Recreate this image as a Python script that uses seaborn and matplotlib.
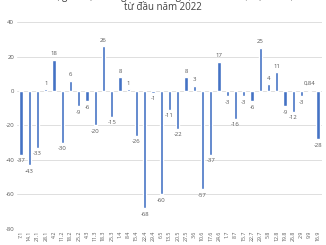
import matplotlib
matplotlib.use("Agg")
import matplotlib.pyplot as plt
import seaborn as sns
import pandas as pd

weeks = ["7.1", "14.1", "21.1", "28.1", "4.2", "11.2", "18.2", "25.2", "4.3", "11.3",
         "18.3", "25.3", "1.4", "8.4", "15.4", "22.4", "29.4", "6.5", "13.5", "20.5",
         "27.5", "3.6", "10.6", "17.6", "24.6", "1.7", "8.7", "15.7", "22.7", "29.7",
         "5.8", "12.8", "19.8", "26.8", "2.9", "9.9", "16.9"]
values = [-37, -43, -33, 1, 18, -30, 6, -9, -6, -20, 26, -15, 8, 1, -26, -68, -1, -60,
          -11, -22, 8, 3, -57, -37, 17, -3, -16, -3, -6, 25, 4, 11, -9, -12, -3, 0.84, -28]
yticks = [40, 20, 0, -20, -40, -60, -80]
title_line1 = "Giá trị giao dịch ròng của khối ngoại theo tuần (triệu USD)"
title_line2 = "từ đầu năm 2022"

sns.set_theme(style="white")
plt.rcParams['font.family'] = ['Open Sans', 'DejaVu Sans']

df = pd.DataFrame({"week": weeks, "value": values})

fig = plt.figure(figsize=(3.26, 2.45), dpi=100)
ax = fig.add_axes([0.052, 0.066, 0.936, 0.844])

sns.barplot(data=df, x="week", y="value", color="#4472C4", width=0.4,
            saturation=1, ax=ax, order=weeks)

ax.set_ylim(-80, 40)
ax.set_xlim(-0.5, len(weeks) - 0.5)
ax.set_yticks(yticks)
ax.set_yticklabels([str(t) for t in yticks], fontsize=4.3, color="#595959")
ax.set_xticks(range(len(weeks)))
ax.set_xticklabels(weeks, rotation=90, fontsize=3.8, color="#595959")
ax.tick_params(axis="y", length=0, pad=2)
ax.tick_params(axis="x", length=0, pad=1.5)
ax.set_xlabel("")
ax.set_ylabel("")
for s in ax.spines.values():
    s.set_visible(False)
ax.grid(axis="y", color="#D9D9D9", linewidth=0.6)
ax.set_axisbelow(True)

for i, v in enumerate(values):
    txt = ("%g" % v).replace(".", ",")
    if v >= 0:
        ax.annotate(txt, (i, v), xytext=(0, 2.5), textcoords="offset points",
                    ha="center", va="bottom", fontsize=4.3, color="#595959")
    else:
        ax.annotate(txt, (i, v), xytext=(0, -2.5), textcoords="offset points",
                    ha="center", va="top", fontsize=4.3, color="#595959")

fig.text(0.5, 1.0 + 3.5 / 245, title_line1, ha="center", va="center",
         fontsize=7, color="#404040")
fig.text(0.5, 1 - 8 / 245, title_line2, ha="center", va="center",
         fontsize=7, color="#404040")

fig.savefig("out.png", dpi=100)
